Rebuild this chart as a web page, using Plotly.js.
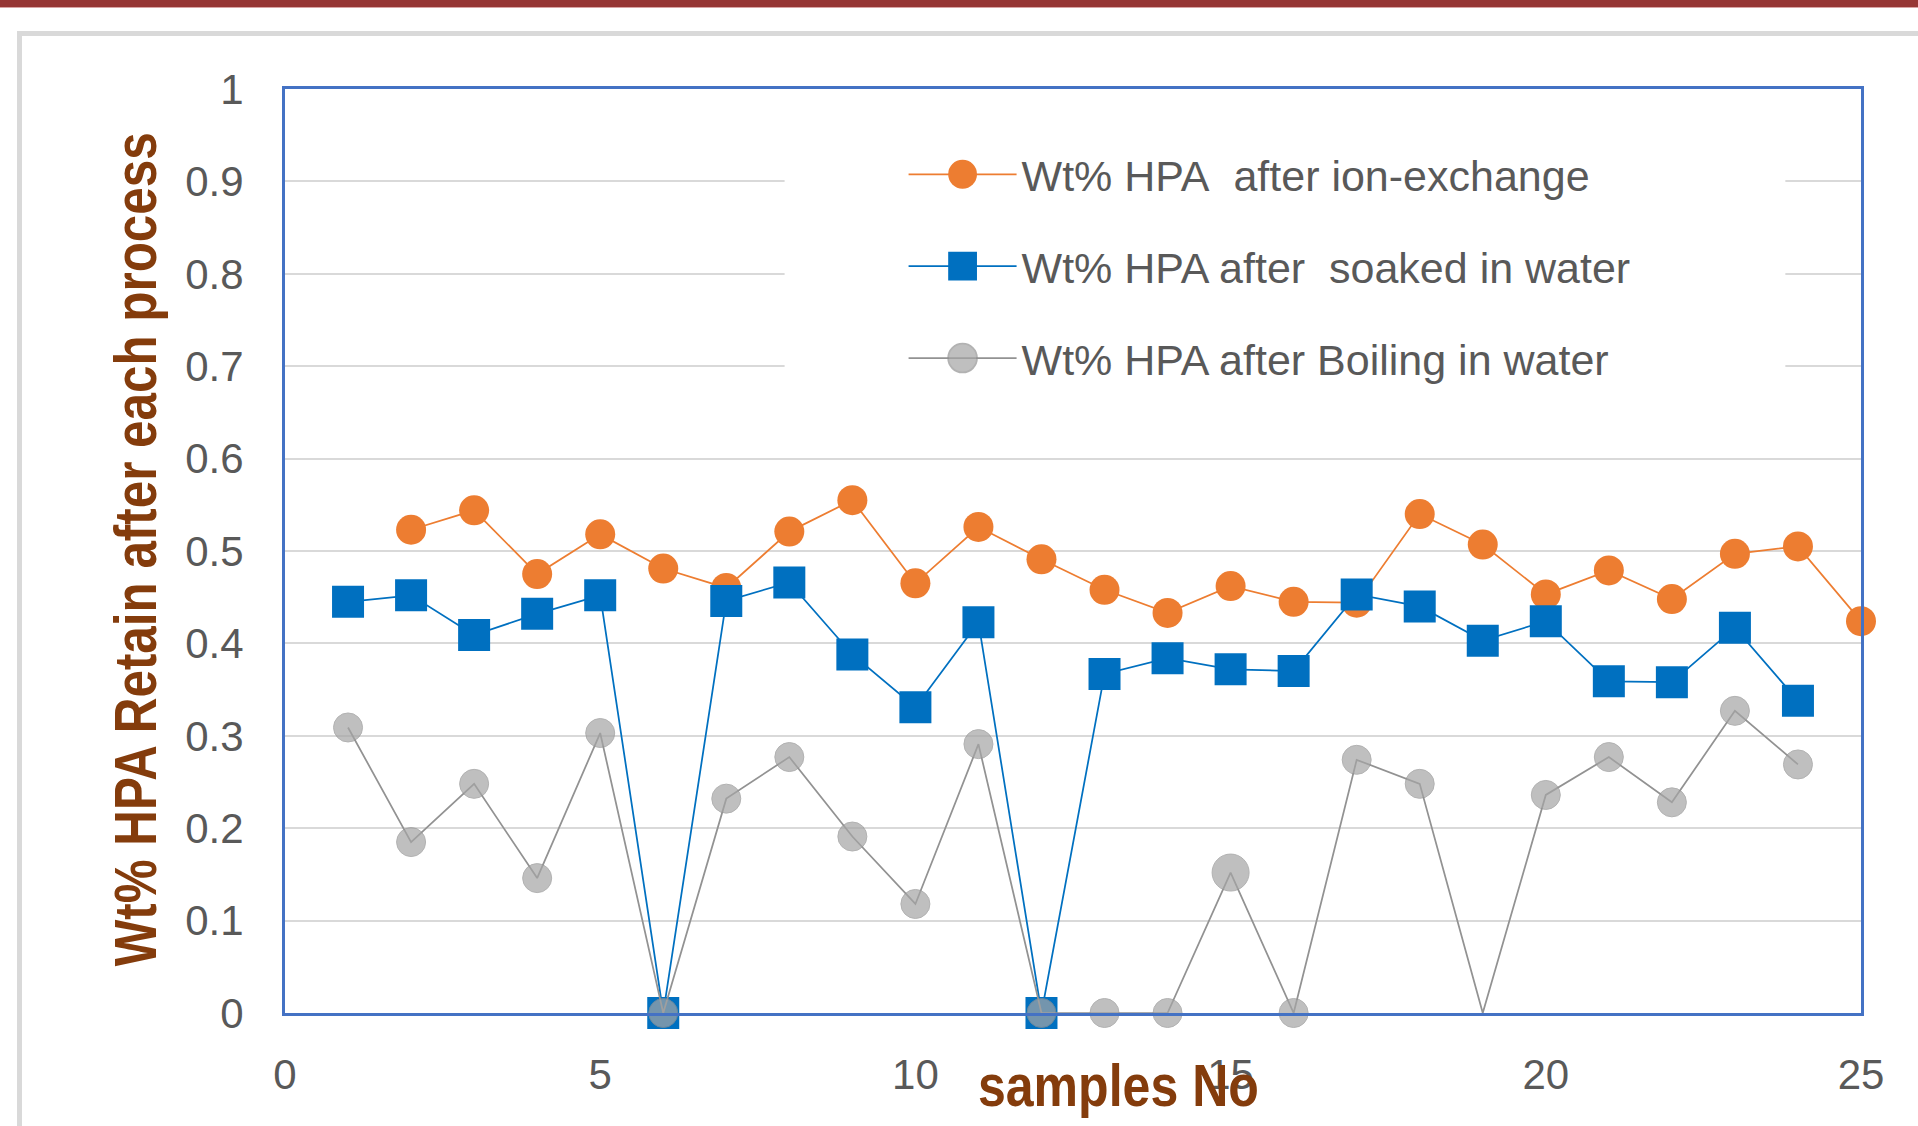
<!DOCTYPE html>
<html>
<head>
<meta charset="utf-8">
<script src="https://cdn.plot.ly/plotly-3.0.1.min.js"></script>
<style>
  html, body { margin: 0; padding: 0; background: #ffffff; }
  #wrap { position: relative; width: 1918px; height: 1126px; overflow: hidden; background: #ffffff; }
  #band { position: absolute; left: 0; top: 0; width: 1918px; height: 7px; background: #963634; border-bottom: 1px solid #d9a3a3; }
  #frame { position: absolute; left: 17px; top: 31px; width: 2000px; height: 1200px; border-left: 5px solid #d9d9d9; border-top: 5px solid #d9d9d9; }
  #chart { position: absolute; left: 0; top: 0; width: 1918px; height: 1126px; }
</style>
</head>
<body>
<div id="wrap">
  <div id="band"></div>
  <div id="frame"></div>
  <div id="chart"></div>
</div>
<script>
// ---- data ----
const ionSamples  = [2,3,4,5,6,7,8,9,10,11,12,13,14,15,16,17,18,19,20,21,22,23,24,25];
const ionValues   = [0.523,0.544,0.475,0.518,0.481,0.460,0.521,0.555,0.465,0.526,0.491,0.458,0.433,0.462,0.445,0.444,0.540,0.507,0.453,0.479,0.448,0.497,0.505,0.424];

const soakSamples = [1,2,3,4,5,6,7,8,9,10,11,12,13,14,15,16,17,18,19,20,21,22,23,24];
const soakValues  = [0.445,0.452,0.409,0.432,0.452,0,0.446,0.466,0.388,0.331,0.423,0,0.367,0.384,0.372,0.370,0.453,0.440,0.403,0.424,0.359,0.358,0.417,0.338];

const boilSamples = [1,2,3,4,5,6,7,8,9,10,11,12,13,14,15,16,17,18,19,20,21,22,23,24];
const boilValues  = [0.309,0.185,0.248,0.146,0.303,0,0.232,0.277,0.191,0.118,0.291,0,0,0,0.152,0,0.274,0.248,0,0.236,0.277,0.228,0.327,0.269];

const seriesNames = [
  'Wt% HPA\u00a0 after ion-exchange',
  'Wt% HPA after\u00a0 soaked in water',
  'Wt% HPA after Boiling in water'
];
const xTitle = 'samples No';
const yTitle = 'Wt% HPA Retain after each process';

// ---- styles ----
const boilMarkerSizes = [29,29,29,29,29,29,29,29,29,29,29,29,29,29,37,29,29,29,0,29,29,29,29,29];
const tickFont = {family: 'Liberation Sans, Arial, sans-serif', size: 42, color: '#595959'};
const titleFont = {family: 'Liberation Sans, Arial, sans-serif', size: 60, color: '#843C0C', weight: 'bold'};

const traces = [
  {
    x: ionSamples, y: ionValues, name: seriesNames[0], type: 'scatter', mode: 'lines+markers',
    legendgroup: 'a',
    line: {color: '#ED7D31', width: 1.75},
    marker: {symbol: 'circle', size: 30, color: '#ED7D31'},
    cliponaxis: false
  },
  {
    x: soakSamples, y: soakValues, name: seriesNames[1], type: 'scatter', mode: 'lines+markers',
    legendgroup: 'b',
    line: {color: '#0070C0', width: 1.75},
    marker: {symbol: 'square', size: 32, color: '#0070C0'},
    cliponaxis: false
  },
  {
    x: boilSamples, y: boilValues, name: seriesNames[2], type: 'scatter', mode: 'lines+markers',
    legendgroup: 'c',
    line: {color: '#929292', width: 1.75},
    marker: {symbol: 'circle', size: boilMarkerSizes, color: '#A5A5A5'},
    cliponaxis: false
  }
];

const layout = {
  width: 1918, height: 1126,
  paper_bgcolor: 'rgba(0,0,0,0)',
  plot_bgcolor: '#ffffff',
  margin: {l: 285, r: 57, t: 89, b: 113},
  showlegend: true,
  legend: {
    x: 0.3925, y: 0.945, xanchor: 'left', yanchor: 'top',
    bgcolor: 'rgba(255,255,255,0)',
    borderwidth: 0,
    font: {family: 'Liberation Sans, Arial, sans-serif', size: 43, color: '#595959'},
    itemwidth: 108,
    traceorder: 'grouped',
    tracegroupgap: 33
  },
  xaxis: {
    range: [0, 25], dtick: 5, tick0: 0,
    showgrid: false, zeroline: false,
    showline: true, mirror: true, linecolor: '#4472C4', linewidth: 3,
    ticks: '', ticklabelstandoff: 23,
    tickfont: tickFont
  },
  yaxis: {
    range: [0, 1], dtick: 0.1, tick0: 0,
    showgrid: true, gridcolor: '#D9D9D9', gridwidth: 2,
    zeroline: false,
    showline: true, mirror: true, linecolor: '#4472C4', linewidth: 3,
    ticks: '', ticklabelstandoff: 30,
    tickfont: tickFont
  },
  shapes: [
    {type: 'rect', xref: 'paper', yref: 'paper', layer: 'above',
     x0: 0.317, x1: 0.952, y0: 0.665, y1: 0.96,
     fillcolor: '#ffffff', line: {width: 0}}
  ],
  annotations: [
    {text: yTitle, xref: 'paper', yref: 'paper', x: -0.0952, y: 0.502,
     xanchor: 'center', yanchor: 'middle', textangle: -90, showarrow: false, font: titleFont},
    {text: xTitle, xref: 'paper', yref: 'paper', x: 0.529, y: -0.078,
     xanchor: 'center', yanchor: 'middle', showarrow: false, font: titleFont}
  ]
};

function finish() {
  // larger legend symbols, as in the reference
  document.querySelectorAll('#chart .legend .legendpoints path.scatterpts').forEach(function (p) {
    const t = p.getAttribute('transform') || '';
    if (t.indexOf('scale') < 0) p.setAttribute('transform', t + ' scale(1.8)');
  });
  // condensed bold axis titles, as in the reference
  const widths = {};
  widths[yTitle] = 834;
  widths[xTitle] = 281;
  document.querySelectorAll('#chart .annotation-text').forEach(function (el) {
    const w = widths[el.textContent];
    if (w) {
      el.setAttribute('textLength', w);
      el.setAttribute('lengthAdjust', 'spacingAndGlyphs');
    }
  });
}

Plotly.newPlot('chart', traces, layout, {displayModeBar: false, staticPlot: true})
  .then(finish)
  .catch(function (e) { console.log(e); finish(); });
</script>
</body>
</html>
